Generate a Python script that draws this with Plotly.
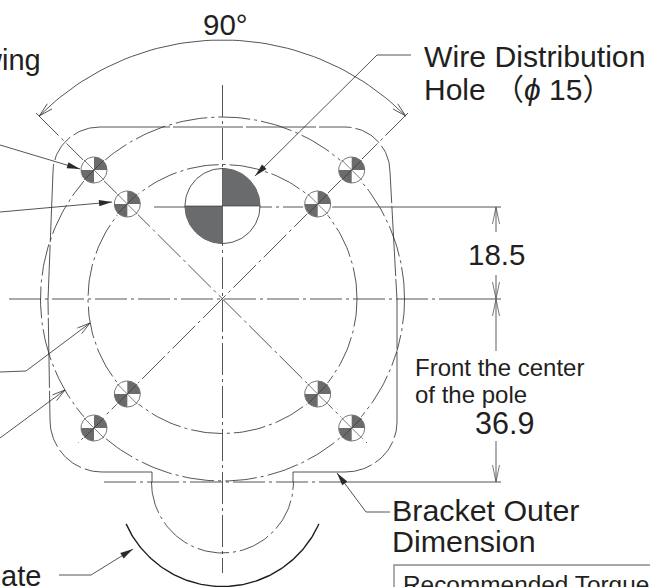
import numpy as np
import plotly.graph_objects as go

CENTER = (222.5, 299)
INNER_R = 134.5
OUTER_R = 182
ANGLE_R = 259
HOLE = (222.5, 206, 37.5)
BOLTS = [(94, 170), (127.3, 204), (351.7, 170), (317.7, 204),
         (127.3, 394), (94, 428), (317.7, 394), (351.7, 428)]
BOLT_R = 13

# bracket outline: straight runs joined by quarter ellipses (cx, cy, rx, ry, start angle)
CORNERS = [(100, 172, 47, 45, 90), (102, 420, 52, 52, 180), (345, 422, 52, 50, 270), (345, 172, 45, 45, 0)]
LEFT_SIDE = [(53, 172), (48, 300), (50, 420)]
RIGHT_SIDE = [(397, 422), (397, 300), (390, 172)]
BOTTOM_RUNS = [((102, 472), (152, 472)), ((293, 472), (345, 472))]
TOP_RUN = [(100, 127), (345, 127)]

CENTER_LINES = [((222.5, 85), (222.5, 573)), ((9, 299), (441, 299)),
                ((154, 207), (325, 207)), ((104, 482), (325, 482)),
                ((36, 113), (367, 443)), ((408, 113), (78, 443)),
                ((152, 472), (152, 482)), ((293, 472), (293, 482))]
SOLID_GREY = [((325, 207), (501, 207)), ((441, 299), (501, 299)), ((325, 482), (501, 482))]
DIM_LINES = [((496, 207), (496, 232)), ((496, 275), (496, 299)),
             ((496, 299), (496, 351)), ((496, 441), (496, 482))]
LEADERS_SOLID = [[(0, 145), (80, 169)], [(0, 212), (112, 202)],
                 [(411, 55), (377, 55), (255, 176)],
                 [(390, 512), (366, 512), (337, 473)],
                 [(59, 575), (91, 575), (133, 549)]]
LEADERS_OPEN = [[(0, 372), (26, 371), (90, 323)], [(0, 438), (65, 390)]]

TEXTS = [("90°", 202, 24, 29.5, "left"),
         ("wing", 42, 60, 29, "right"),
         ("Wire Distribution", 423, 56, 30.2, "left"),
         ("Hole （<i>ϕ</i> 15）", 423, 89, 30, "left"),
         ("18.5", 466.5, 254, 29.5, "left"),
         ("Front the center", 413.5, 367, 24, "left"),
         ("of the pole", 413.5, 394, 24, "left"),
         ("36.9", 473.5, 423, 30.5, "left"),
         ("Bracket Outer", 391, 510, 30.4, "left"),
         ("Dimension", 391, 541, 30.4, "left"),
         ("ate", 42, 576, 29, "right")]
BOX_TEXT = "Recommended Torque"

INK = "#2b2a2a"
DASH = "32px,4px,3px,4px"
OUTLINE = "70px,3px"
DARK = "#6a6b6d"
fig = go.Figure()


def line(pts, color=INK, width=0.8, dash="solid"):
    xs, ys = zip(*pts)
    fig.add_trace(go.Scatter(x=xs, y=ys, mode="lines", line=dict(color=color, width=width, dash=dash)))


def poly(pts, fill, lcolor=None, width=0.0):
    xs, ys = zip(*pts)
    fig.add_trace(go.Scatter(x=list(xs) + [xs[0]], y=list(ys) + [ys[0]], mode="lines", fill="toself",
                             fillcolor=fill, line=dict(color=lcolor or fill, width=width)))


def arc(cx, cy, r, a0, a1, n=120, ry=None):
    t = np.radians(np.linspace(a0, a1, n))
    return list(zip(cx + r * np.cos(t), cy - (ry or r) * np.sin(t)))


def head(tail, tip, size=13, half=3.2, solid=True, color=INK, width=0.8):
    d = np.array(tip, float) - np.array(tail, float)
    d /= np.hypot(*d)
    n = np.array([-d[1], d[0]])
    a = np.array(tip) - d * size + n * half
    b = np.array(tip) - d * size - n * half
    if solid:
        poly([tuple(tip), tuple(a), tuple(b)], INK)
    else:
        line([tuple(a), tuple(tip), tuple(b)], color=color, width=width)


# pitch circles and ear arc
line(arc(*CENTER, INNER_R, 0, 360, 240), dash=DASH)
line(arc(*CENTER, OUTER_R, 0, 360, 300), dash=DASH)
line(arc(222.5, 482, 71, 180, 360), dash=DASH)
line(arc(222.5, 481, 105.5, 204, 336), color="#1d1d1d", width=1.4)

# bracket outline
for cx, cy, rx, ry, start in CORNERS:
    line(arc(cx, cy, rx, start, start + 90, 40, ry=ry), dash="28px,4px")
line(LEFT_SIDE, dash=OUTLINE)
line(RIGHT_SIDE, dash=OUTLINE)
line(TOP_RUN, dash=OUTLINE)
for p, q in BOTTOM_RUNS:
    line([p, q], dash=OUTLINE)

for p, q in CENTER_LINES:
    line([p, q], dash=DASH)
for p, q in SOLID_GREY:
    line([p, q], color="#555555", width=1.0)

# angle arc
a_pts = arc(*CENTER, ANGLE_R, 45, 135, 60)
line(a_pts)
head(a_pts[3], a_pts[0], size=14, half=3.5, solid=False)
head(a_pts[-4], a_pts[-1], size=14, half=3.5, solid=False)

# dimension lines
for p, q in DIM_LINES:
    line([p, q], color="#9a9a9a", width=1.6)
for tail, tip in [((496, 232), (496, 207)), ((496, 275), (496, 299)),
                  ((496, 351), (496, 299)), ((496, 441), (496, 482))]:
    head(tail, tip, size=17, half=3.5, solid=False, color="#555555")

# bolts
for bx, by in BOLTS:
    poly(arc(bx, by, BOLT_R + 2, 0, 360, 48), "#ffffff")
    poly(arc(bx, by, BOLT_R, 0, 360, 60), "#ffffff", lcolor="#555555", width=0.8)
    poly([(bx, by)] + arc(bx, by, BOLT_R, 0, 90, 20), DARK)
    poly([(bx, by)] + arc(bx, by, BOLT_R, 180, 270, 20), DARK)
    s = BOLT_R + 1
    for dx, dy in [(1, 1), (1, -1)]:
        line([(bx - s * dx * .72, by - s * dy * .72), (bx + s * dx * .72, by + s * dy * .72)], width=0.6)

# wire hole
hx, hy, hr = HOLE
poly(arc(hx, hy, hr, 0, 360, 120), "#ffffff", lcolor=INK, width=0.8)
poly([(hx, hy)] + arc(hx, hy, hr, 0, 90, 40), DARK)
poly([(hx, hy)] + arc(hx, hy, hr, 180, 270, 40), DARK)
line([(hx, hy - hr), (hx, hy + hr)], width=0.6)
line([(hx - hr, hy), (hx + hr, hy)], width=0.6)

# leaders
for pts in LEADERS_SOLID:
    line(pts)
    head(pts[-2], pts[-1])
for pts in LEADERS_OPEN:
    line(pts)
    head(pts[-2], pts[-1], size=13, half=3.5, solid=False)

# torque box
line([(394, 587), (394, 565), (650, 565)], color="#8a8a8a", width=1.4)


def label(text, x, y, size, anchor="left", yanchor="middle", family="Liberation Sans, Noto Sans CJK JP"):
    fig.add_annotation(x=x, y=y, xref="x", yref="y", text=text, showarrow=False,
                       xanchor=anchor, yanchor=yanchor, borderpad=0,
                       font=dict(family=family, size=size, color="#231f20"))


for t, x, y, size, anchor in TEXTS:
    label(t, x, y, size, anchor)
label(BOX_TEXT, 401.5, 570, 24.4, "left", yanchor="top")

fig.update_layout(width=650, height=587, margin=dict(l=0, r=0, t=0, b=0), showlegend=False,
                  plot_bgcolor="#ffffff", paper_bgcolor="#ffffff",
                  xaxis=dict(range=[0, 650], visible=False, fixedrange=True),
                  yaxis=dict(range=[587, 0], visible=False, fixedrange=True))
fig.write_html("out.html", config={"displayModeBar": False},
               post_script="document.body.style.margin='0';document.body.style.overflow='hidden';")
